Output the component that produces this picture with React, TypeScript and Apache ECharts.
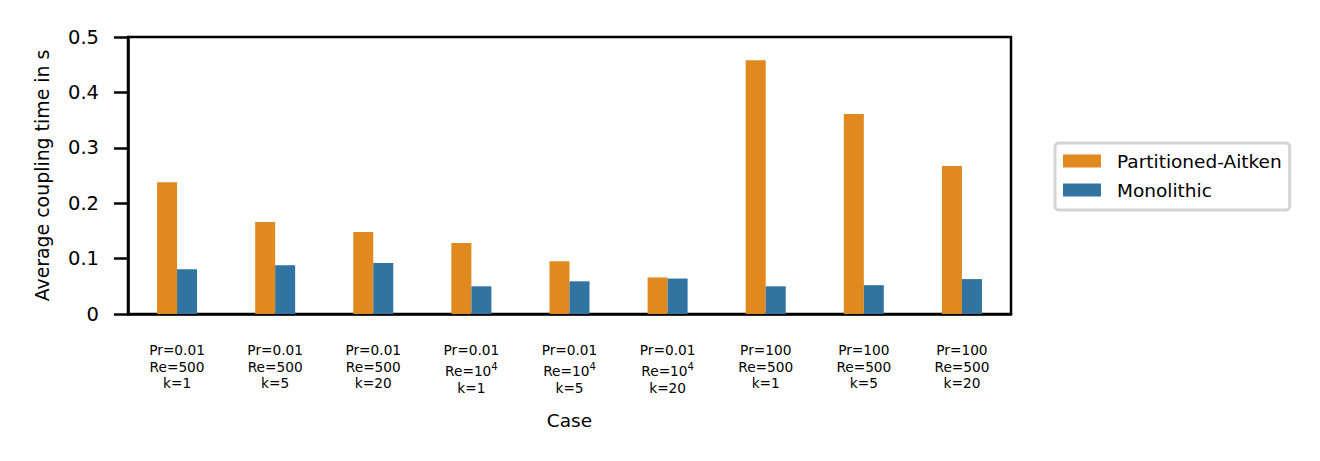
import React, { useEffect, useRef } from "react";
import * as echarts from "echarts";

const categories = [
  "Pr=0.01;Re=500;k=1",
  "Pr=0.01;Re=500;k=5",
  "Pr=0.01;Re=500;k=20",
  "Pr=0.01;Re=10^4;k=1",
  "Pr=0.01;Re=10^4;k=5",
  "Pr=0.01;Re=10^4;k=20",
  "Pr=100;Re=500;k=1",
  "Pr=100;Re=500;k=5",
  "Pr=100;Re=500;k=20",
];

const partitionedAitken = [0.238, 0.166, 0.148, 0.128, 0.095, 0.066, 0.458, 0.361, 0.267];
const monolithic = [0.081, 0.088, 0.092, 0.05, 0.059, 0.064, 0.05, 0.052, 0.063];

const seriesNames = ["Partitioned-Aitken", "Monolithic"];
const colors = ["#e0891f", "#3274a1"];

const FONT = "DejaVu Sans";

export default function App() {
  const ref = useRef<HTMLDivElement>(null);
  useEffect(() => {
    document.body.style.margin = "0";
    const chart = echarts.init(ref.current!, null, { renderer: "svg" });
    const labelFormatter = (v: string) =>
      v
        .split(";")
        .map((line) => {
          const m = line.match(/^(.*)\^(\d+)$/);
          if (m) return `{rb|${m[1]}}{sup|${m[2]}}`;
          return `{r|${line}}`;
        })
        .join("\n");
    chart.setOption({
      animation: false,
      backgroundColor: "#fff",
      grid: {
        left: 128,
        right: 309,
        top: 37,
        bottom: 147,
        show: true,
        borderColor: "#000",
        borderWidth: 2.5,
        backgroundColor: "transparent",
      },
      legend: {
        orient: "vertical",
        left: 1055,
        top: 143,
        data: seriesNames,
        icon: "rect",
        itemWidth: 38,
        itemHeight: 13,
        itemGap: 10,
        selectedMode: false,
        padding: [8.5, 8, 10.5, 8],
        borderColor: "#d4d4d4",
        borderWidth: 3,
        borderRadius: 4,
        backgroundColor: "#fff",
        textStyle: {
          fontFamily: FONT,
          fontSize: 18.5,
          lineHeight: 18,
          color: "#000",
          padding: [0, 0, 0, 11],
        },
      },
      xAxis: {
        type: "category",
        data: categories,
        axisLine: { lineStyle: { color: "#000", width: 2.5 } },
        axisTick: {
          alignWithLabel: true,
          length: 13,
          lineStyle: { color: "#000", width: 2.5 },
        },
        axisLabel: {
          interval: 0,
          margin: 28,
          color: "#000",
          fontFamily: FONT,
          fontSize: 13.7,
          formatter: labelFormatter,
          rich: {
            r: { fontFamily: FONT, fontSize: 13.7, lineHeight: 16.5, color: "#000" },
            rb: {
              fontFamily: FONT,
              fontSize: 13.7,
              lineHeight: 16.5,
              color: "#000",
              verticalAlign: "bottom",
              padding: [0, 0, 2, 0],
            },
            sup: {
              fontFamily: FONT,
              fontSize: 10,
              lineHeight: 21,
              color: "#000",
              verticalAlign: "top",
              padding: [2.6, 0, 0, 0],
            },
          },
        },
        name: "Case",
        nameLocation: "middle",
        nameGap: 97,
        nameTextStyle: { fontFamily: FONT, fontSize: 18.5, color: "#000" },
      },
      yAxis: {
        type: "value",
        min: 0,
        max: 0.5,
        interval: 0.1,
        splitLine: { show: false },
        axisLine: { show: true, lineStyle: { color: "#000", width: 2.5 } },
        axisTick: { show: true, length: 14, lineStyle: { color: "#000", width: 2.5 } },
        axisLabel: { margin: 29, fontSize: 19.5, color: "#000", fontFamily: FONT },
        name: "Average coupling time in s",
        nameLocation: "middle",
        nameGap: 77,
        nameTextStyle: { fontFamily: FONT, fontSize: 18.9, color: "#000" },
      },
      series: [
        {
          type: "bar",
          name: seriesNames[0],
          data: partitionedAitken,
          barWidth: 20,
          barGap: "0%",
          itemStyle: { color: colors[0] },
        },
        {
          type: "bar",
          name: seriesNames[1],
          data: monolithic,
          barWidth: 20,
          barGap: "0%",
          itemStyle: { color: colors[1] },
        },
      ],
    });
    return () => chart.dispose();
  }, []);
  return <div ref={ref} style={{ width: 1320, height: 461 }} />;
}
